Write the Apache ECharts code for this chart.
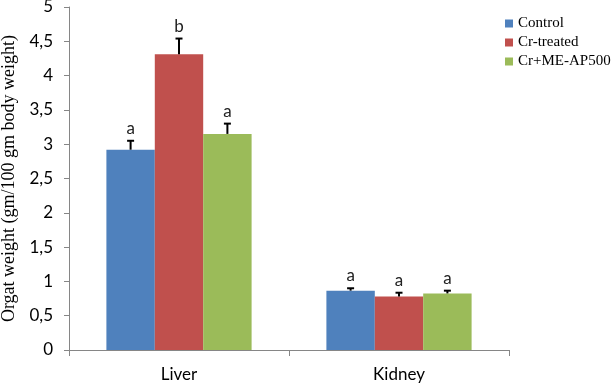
<!DOCTYPE html>
<html>
<head>
<meta charset="utf-8">
<script src="https://cdn.jsdelivr.net/npm/echarts@6/dist/echarts.min.js"></script>
<style>
  html, body { margin: 0; padding: 0; background: #fff; }
  #chart { width: 613px; height: 387px; }
</style>
</head>
<body>
<div id="chart"></div>
<script>
const organs = ['Liver', 'Kidney']
const groups = ['Control', 'Cr-treated', 'Cr+ME-AP500']
const colors = ['#4F81BD', '#C0504D', '#9BBB59']

const means = [
  [2.92, 0.865],   // Control
  [4.31, 0.78],    // Cr-treated
  [3.15, 0.825],   // Cr+ME-AP500
]
const errors = [
  [0.13, 0.035],
  [0.23, 0.055],
  [0.15, 0.04],
]
const letters = [
  ['a', 'a'],
  ['b', 'a'],
  ['a', 'a'],
]

const yTicks = ['0', '0,5', '1', '1,5', '2', '2,5', '3', '3,5', '4', '4,5', '5']

const gapFrac = 0.34

function errorSeries(gi) {
  return {
    type: 'custom',
    z: 5,
    data: organs.map((o, i) => [i, means[gi][i], errors[gi][i], letters[gi][i]]),
    renderItem: (params, api) => {
      const cat = api.value(0)
      const top = api.coord([cat, api.value(1)])
      const hi = api.coord([cat, api.value(1) + api.value(2)])
      const bandW = api.size([1, 0])[0]
      const barW = bandW * (1 - gapFrac) / 3
      const x = top[0] + (gi - 1) * barW
      return {
        type: 'group',
        children: [
          { type: 'line', shape: { x1: x, y1: top[1], x2: x, y2: hi[1] }, style: { stroke: '#000', lineWidth: 2 } },
          { type: 'line', shape: { x1: x - 3.5, y1: hi[1], x2: x + 3.5, y2: hi[1] }, style: { stroke: '#000', lineWidth: 2 } },
          { type: 'text', x: x, y: hi[1] - 4, style: { text: api.value(3), fill: '#222', font: '17px Lato', align: 'center', verticalAlign: 'bottom' } },
        ],
      }
    },
  }
}

const chart = echarts.init(document.getElementById('chart'))
chart.setOption({
  animation: false,
  grid: { left: 69, right: 104, top: 7, bottom: 37, containLabel: false, outerBoundsMode: 'none' },
  legend: {
    orient: 'vertical',
    left: 500,
    top: 11,
    itemWidth: 8,
    itemHeight: 8,
    itemGap: 4,
    icon: 'rect',
    data: groups,
    textStyle: { fontFamily: 'Liberation Serif', fontSize: 15, color: '#000' },
  },
  xAxis: {
    type: 'category',
    data: organs,
    axisLine: { lineStyle: { color: '#868686', width: 1 } },
    axisTick: { show: true, length: 6, lineStyle: { color: '#868686' } },
    axisLabel: { color: '#000', fontFamily: 'Lato', fontSize: 17, margin: 16 },
  },
  yAxis: {
    type: 'value',
    min: 0,
    max: 5,
    interval: 0.5,
    name: 'Orgat weight (gm/100 gm body weight)',
    nameLocation: 'middle',
    nameGap: 50,
    nameTextStyle: { fontFamily: 'Liberation Serif', fontSize: 18, color: '#000' },
    splitLine: { show: false },
    axisLine: { show: true, lineStyle: { color: '#868686' } },
    axisTick: { show: true, length: 5, lineStyle: { color: '#868686' } },
    axisLabel: {
      color: '#000', fontFamily: 'Lato', fontSize: 17, margin: 16,
      formatter: (v) => yTicks[Math.round(v * 2)],
    },
  },
  series: [
    ...groups.map((g, gi) => ({
      name: g,
      type: 'bar',
      data: means[gi],
      barGap: '0%',
      barCategoryGap: '34%',
      itemStyle: { color: colors[gi] },
    })),
    ...groups.map((g, gi) => errorSeries(gi)),
  ],
})
</script>
</body>
</html>
